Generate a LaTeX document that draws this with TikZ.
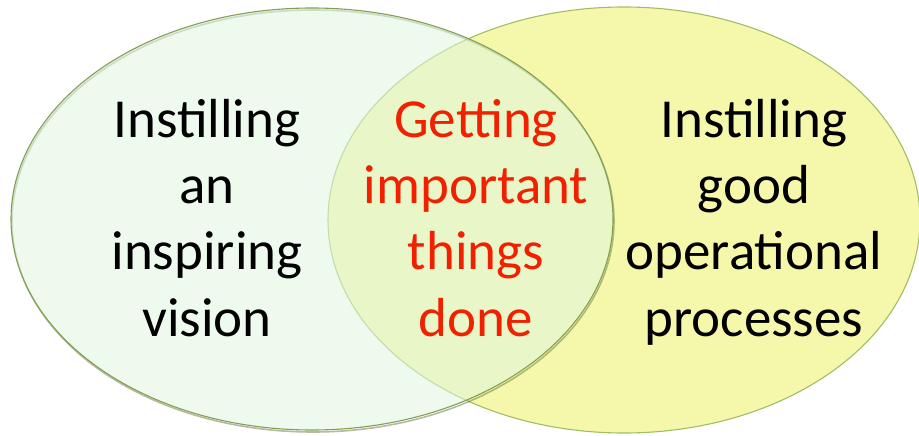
\documentclass[tikz,border=0pt]{standalone}
\usepackage{fontspec}
\setmainfont{Carlito}
\definecolor{leftfill}{RGB}{224,246,224}
\definecolor{rightfill}{RGB}{245,248,170}
\definecolor{leftedge}{RGB}{130,160,80}
\definecolor{rightedge}{RGB}{160,190,100}
\definecolor{shadowc}{RGB}{90,105,50}
\definecolor{redtext}{RGB}{240,32,0}
\tikzset{
  lbl/.style={anchor=base, inner sep=0pt, font=\fontsize{55}{66}\selectfont, text=black},
  redlbl/.style={lbl, text=redtext}
}
\begin{document}
\begin{tikzpicture}[x=1pt,y=-1pt]
\useasboundingbox[fill=white] (0,0) rectangle (919,436);
% right ellipse
\fill[rightfill] (624,220) ellipse [x radius=296, y radius=213];
\draw[rightedge, line width=1.1pt] (624,220) ellipse [x radius=296, y radius=213];
% shadow of left ellipse
\draw[shadowc, opacity=0.45, line width=1.6pt] (313,221) ellipse [x radius=301, y radius=211];
% left ellipse
\fill[leftfill, fill opacity=0.55] (312,219) ellipse [x radius=301, y radius=211];
\draw[leftedge, line width=1.1pt] (312,219) ellipse [x radius=301, y radius=211];
% left text
\node[lbl] (l1) at (207,137) {Instilling};
\node[lbl] (l2) at (207,203.3) {an};
\node[lbl] (l3) at (207,269.7) {inspiring};
\node[lbl] (l4) at (207,336) {vision};
% middle text
\node[redlbl] (m1) at (476,137) {Getting};
\node[redlbl] (m2) at (476,203.3) {important};
\node[redlbl] (m3) at (476,269.7) {things};
\node[redlbl] (m4) at (476,336) {done};
% right text
\node[lbl] (r1) at (754,137) {Instilling};
\node[lbl] (r2) at (754,203.3) {good};
\node[lbl] (r3) at (754,269.7) {operational};
\node[lbl] (r4) at (754,336) {processes};
\end{tikzpicture}
\end{document}
